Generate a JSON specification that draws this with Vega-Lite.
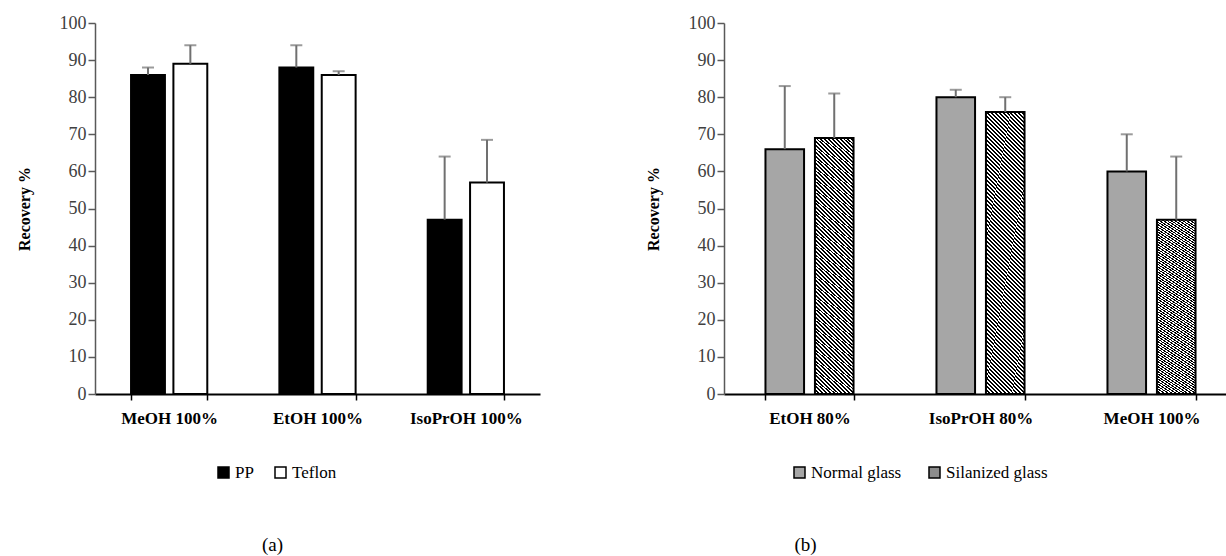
{
  "$schema": "https://vega.github.io/schema/vega-lite/v6.json",
  "background": "white",
  "padding": {"left": 16, "top": 14, "right": 0, "bottom": 0},
  "spacing": 105,
  "config": {
    "font": "Liberation Serif",
    "view": {"stroke": null}
  },
  "datasets": {
    "a": [
      {"solvent": "MeOH 100%", "material": "PP", "value": 86, "upper": 88},
      {"solvent": "MeOH 100%", "material": "Teflon", "value": 89, "upper": 94},
      {"solvent": "EtOH 100%", "material": "PP", "value": 88, "upper": 94},
      {"solvent": "EtOH 100%", "material": "Teflon", "value": 86, "upper": 87},
      {"solvent": "IsoPrOH 100%", "material": "PP", "value": 47, "upper": 64},
      {"solvent": "IsoPrOH 100%", "material": "Teflon", "value": 57, "upper": 68.5}
    ],
    "b": [
      {"solvent2": "EtOH 80%", "glass": "Normal glass", "value": 66, "upper": 83},
      {"solvent2": "EtOH 80%", "glass": "Silanized glass", "value": 69, "upper": 81},
      {"solvent2": "IsoPrOH 80%", "glass": "Normal glass", "value": 80, "upper": 82},
      {"solvent2": "IsoPrOH 80%", "glass": "Silanized glass", "value": 76, "upper": 80},
      {"solvent2": "MeOH 100%", "glass": "Normal glass", "value": 60, "upper": 70},
      {"solvent2": "MeOH 100%", "glass": "Silanized glass", "value": 47, "upper": 64}
    ]
  },
  "hconcat": [
    {
      "width": 445, "height": 371,
      "data": {"name": "a"},
      "title": {"text": "(a)", "orient": "bottom", "offset": 55, "dx": -45, "fontSize": 19, "fontWeight": "normal", "font": "Liberation Serif", "color": "#000"},
      "encoding": {
        "x": {"field": "solvent", "type": "nominal", "sort": ["MeOH 100%", "EtOH 100%", "IsoPrOH 100%"], "scale": {"paddingInner": 0.486, "paddingOuter": 0.243},
          "axis": {"title": null, "grid": false, "labelAngle": 0, "labelFontSize": 17, "labelFontWeight": "bold", "labelColor": "#000", "labelFont": "Liberation Serif",
            "domainColor": "#000", "domainWidth": 2, "tickColor": "#000", "tickWidth": 1.5, "tickSize": 6, "tickBand": "extent", "labelPadding": 10}},
        "xOffset": {"field": "material", "type": "nominal", "sort": ["PP", "Teflon"], "scale": {"paddingInner": 0.2, "paddingOuter": 0}}
      },
      "layer": [
        {
          "mark": {"type": "bar", "stroke": "#000", "strokeWidth": 2},
          "encoding": {
            "y": {"field": "value", "type": "quantitative", "scale": {"domain": [0, 100]},
              "axis": {"title": "Recovery %", "values": [0, 10, 20, 30, 40, 50, 60, 70, 80, 90, 100], "labelOverlap": false,
                "grid": false, "domainColor": "#595959", "domainWidth": 1.5, "tickColor": "#595959", "tickWidth": 1.5,
                "tickSize": 7, "labelFontSize": 18, "labelColor": "#404040", "labelPadding": 2, "labelFont": "Liberation Serif",
                "titleFont": "Liberation Serif", "titleFontSize": 16, "titleFontWeight": "bold", "titleColor": "#000", "titlePadding": 27}},
            "fill": {"field": "material", "type": "nominal", "scale": {"domain": ["PP", "Teflon"], "range": ["#000000", "#ffffff"]},
              "legend": {"title": null, "orient": "none", "legendX": 120, "legendY": 441, "direction": "horizontal",
                "labelFont": "Liberation Serif", "labelFontSize": 17, "labelColor": "#000", "symbolType": "square", "symbolSize": 121,
                "symbolStrokeColor": "#000", "symbolStrokeWidth": 1.5, "labelOffset": 3, "columnPadding": 18}}
          }
        },
        {
          "mark": {"type": "rule", "color": "#707070", "strokeWidth": 2},
          "encoding": {
            "y": {"field": "value", "type": "quantitative", "scale": {"domain": [0, 100]},
              "axis": {"title": "Recovery %", "values": [0, 10, 20, 30, 40, 50, 60, 70, 80, 90, 100], "labelOverlap": false,
                "grid": false, "domainColor": "#595959", "domainWidth": 1.5, "tickColor": "#595959", "tickWidth": 1.5,
                "tickSize": 7, "labelFontSize": 18, "labelColor": "#404040", "labelPadding": 2, "labelFont": "Liberation Serif",
                "titleFont": "Liberation Serif", "titleFontSize": 16, "titleFontWeight": "bold", "titleColor": "#000", "titlePadding": 27}},
            "y2": {"field": "upper"}}
        },
        {
          "mark": {"type": "tick", "color": "#707070", "thickness": 2, "size": 12},
          "encoding": {
            "y": {"field": "upper", "type": "quantitative", "scale": {"domain": [0, 100]},
              "axis": {"title": "Recovery %", "values": [0, 10, 20, 30, 40, 50, 60, 70, 80, 90, 100], "labelOverlap": false,
                "grid": false, "domainColor": "#595959", "domainWidth": 1.5, "tickColor": "#595959", "tickWidth": 1.5,
                "tickSize": 7, "labelFontSize": 18, "labelColor": "#404040", "labelPadding": 2, "labelFont": "Liberation Serif",
                "titleFont": "Liberation Serif", "titleFontSize": 16, "titleFontWeight": "bold", "titleColor": "#000", "titlePadding": 27}}}
        }
      ]
    },
    {
      "width": 513, "height": 371,
      "data": {"name": "b"},
      "title": {"text": "(b)", "orient": "bottom", "offset": 55, "dx": -175, "fontSize": 19, "fontWeight": "normal", "font": "Liberation Serif", "color": "#000"},
      "encoding": {
        "x": {"field": "solvent2", "type": "nominal", "sort": ["EtOH 80%", "IsoPrOH 80%", "MeOH 100%"], "scale": {"paddingInner": 0.485, "paddingOuter": 0.2425},
          "axis": {"title": null, "grid": false, "labelAngle": 0, "labelFontSize": 17, "labelFontWeight": "bold", "labelColor": "#000", "labelFont": "Liberation Serif",
            "domainColor": "#000", "domainWidth": 2, "tickColor": "#000", "tickWidth": 1.5, "tickSize": 6, "tickBand": "extent", "labelPadding": 10}},
        "xOffset": {"field": "glass", "type": "nominal", "sort": ["Normal glass", "Silanized glass"], "scale": {"paddingInner": 0.22, "paddingOuter": 0}}
      },
      "layer": [
        {
          "mark": {"type": "bar", "stroke": "#000", "strokeWidth": 2},
          "encoding": {
            "y": {"field": "value", "type": "quantitative", "scale": {"domain": [0, 100]},
              "axis": {"title": "Recovery %", "values": [0, 10, 20, 30, 40, 50, 60, 70, 80, 90, 100], "labelOverlap": false,
                "grid": false, "domainColor": "#595959", "domainWidth": 1.5, "tickColor": "#595959", "tickWidth": 1.5,
                "tickSize": 7, "labelFontSize": 18, "labelColor": "#404040", "labelPadding": 2, "labelFont": "Liberation Serif",
                "titleFont": "Liberation Serif", "titleFontSize": 16, "titleFontWeight": "bold", "titleColor": "#000", "titlePadding": 27}},
            "fill": {
              "condition": {"test": "datum.glass === 'Silanized glass'", "value": {"gradient": "linear", "x1": 0, "y1": 1, "x2": 1, "y2": -6, "stops": [
{"offset":0,"color":"#000"},{"offset":0.001,"color":"#000"},{"offset":0.001,"color":"#fff"},{"offset":0.002,"color":"#fff"},
{"offset":0.002,"color":"#000"},{"offset":0.003,"color":"#000"},{"offset":0.003,"color":"#fff"},{"offset":0.004,"color":"#fff"},
{"offset":0.004,"color":"#000"},{"offset":0.005,"color":"#000"},{"offset":0.005,"color":"#fff"},{"offset":0.006,"color":"#fff"},
{"offset":0.006,"color":"#000"},{"offset":0.007,"color":"#000"},{"offset":0.007,"color":"#fff"},{"offset":0.008,"color":"#fff"},
{"offset":0.008,"color":"#000"},{"offset":0.009,"color":"#000"},{"offset":0.009,"color":"#fff"},{"offset":0.010,"color":"#fff"},
{"offset":0.010,"color":"#000"},{"offset":0.011,"color":"#000"},{"offset":0.011,"color":"#fff"},{"offset":0.012,"color":"#fff"},
{"offset":0.012,"color":"#000"},{"offset":0.013,"color":"#000"},{"offset":0.013,"color":"#fff"},{"offset":0.014,"color":"#fff"},
{"offset":0.014,"color":"#000"},{"offset":0.015,"color":"#000"},{"offset":0.015,"color":"#fff"},{"offset":0.016,"color":"#fff"},
{"offset":0.016,"color":"#000"},{"offset":0.017,"color":"#000"},{"offset":0.017,"color":"#fff"},{"offset":0.018,"color":"#fff"},
{"offset":0.018,"color":"#000"},{"offset":0.019,"color":"#000"},{"offset":0.019,"color":"#fff"},{"offset":0.020,"color":"#fff"},
{"offset":0.020,"color":"#000"},{"offset":0.021,"color":"#000"},{"offset":0.021,"color":"#fff"},{"offset":0.022,"color":"#fff"},
{"offset":0.022,"color":"#000"},{"offset":0.023,"color":"#000"},{"offset":0.023,"color":"#fff"},{"offset":0.024,"color":"#fff"},
{"offset":0.024,"color":"#000"},{"offset":0.025,"color":"#000"},{"offset":0.025,"color":"#fff"},{"offset":0.026,"color":"#fff"},
{"offset":0.026,"color":"#000"},{"offset":0.027,"color":"#000"},{"offset":0.027,"color":"#fff"},{"offset":0.028,"color":"#fff"},
{"offset":0.028,"color":"#000"},{"offset":0.029,"color":"#000"},{"offset":0.029,"color":"#fff"},{"offset":0.030,"color":"#fff"},
{"offset":0.030,"color":"#000"},{"offset":0.031,"color":"#000"},{"offset":0.031,"color":"#fff"},{"offset":0.032,"color":"#fff"},
{"offset":0.032,"color":"#000"},{"offset":0.033,"color":"#000"},{"offset":0.033,"color":"#fff"},{"offset":0.034,"color":"#fff"},
{"offset":0.034,"color":"#000"},{"offset":0.035,"color":"#000"},{"offset":0.035,"color":"#fff"},{"offset":0.036,"color":"#fff"},
{"offset":0.036,"color":"#000"},{"offset":0.037,"color":"#000"},{"offset":0.037,"color":"#fff"},{"offset":0.038,"color":"#fff"},
{"offset":0.038,"color":"#000"},{"offset":0.039,"color":"#000"},{"offset":0.039,"color":"#fff"},{"offset":0.040,"color":"#fff"},
{"offset":0.040,"color":"#000"},{"offset":0.041,"color":"#000"},{"offset":0.041,"color":"#fff"},{"offset":0.042,"color":"#fff"},
{"offset":0.042,"color":"#000"},{"offset":0.043,"color":"#000"},{"offset":0.043,"color":"#fff"},{"offset":0.044,"color":"#fff"},
{"offset":0.044,"color":"#000"},{"offset":0.045,"color":"#000"},{"offset":0.045,"color":"#fff"},{"offset":0.046,"color":"#fff"},
{"offset":0.046,"color":"#000"},{"offset":0.047,"color":"#000"},{"offset":0.047,"color":"#fff"},{"offset":0.048,"color":"#fff"},
{"offset":0.048,"color":"#000"},{"offset":0.049,"color":"#000"},{"offset":0.049,"color":"#fff"},{"offset":0.050,"color":"#fff"},
{"offset":0.050,"color":"#000"},{"offset":0.051,"color":"#000"},{"offset":0.051,"color":"#fff"},{"offset":0.052,"color":"#fff"},
{"offset":0.052,"color":"#000"},{"offset":0.053,"color":"#000"},{"offset":0.053,"color":"#fff"},{"offset":0.054,"color":"#fff"},
{"offset":0.054,"color":"#000"},{"offset":0.055,"color":"#000"},{"offset":0.055,"color":"#fff"},{"offset":0.056,"color":"#fff"},
{"offset":0.056,"color":"#000"},{"offset":0.057,"color":"#000"},{"offset":0.057,"color":"#fff"},{"offset":0.058,"color":"#fff"},
{"offset":0.058,"color":"#000"},{"offset":0.059,"color":"#000"},{"offset":0.059,"color":"#fff"},{"offset":0.060,"color":"#fff"},
{"offset":0.060,"color":"#000"},{"offset":0.061,"color":"#000"},{"offset":0.061,"color":"#fff"},{"offset":0.062,"color":"#fff"},
{"offset":0.062,"color":"#000"},{"offset":0.063,"color":"#000"},{"offset":0.063,"color":"#fff"},{"offset":0.064,"color":"#fff"},
{"offset":0.064,"color":"#000"},{"offset":0.065,"color":"#000"},{"offset":0.065,"color":"#fff"},{"offset":0.066,"color":"#fff"},
{"offset":0.066,"color":"#000"},{"offset":0.067,"color":"#000"},{"offset":0.067,"color":"#fff"},{"offset":0.068,"color":"#fff"},
{"offset":0.068,"color":"#000"},{"offset":0.069,"color":"#000"},{"offset":0.069,"color":"#fff"},{"offset":0.070,"color":"#fff"},
{"offset":0.070,"color":"#000"},{"offset":0.071,"color":"#000"},{"offset":0.071,"color":"#fff"},{"offset":0.072,"color":"#fff"},
{"offset":0.072,"color":"#000"},{"offset":0.073,"color":"#000"},{"offset":0.073,"color":"#fff"},{"offset":0.074,"color":"#fff"},
{"offset":0.074,"color":"#000"},{"offset":0.075,"color":"#000"},{"offset":0.075,"color":"#fff"},{"offset":0.076,"color":"#fff"},
{"offset":0.076,"color":"#000"},{"offset":0.077,"color":"#000"},{"offset":0.077,"color":"#fff"},{"offset":0.078,"color":"#fff"},
{"offset":0.078,"color":"#000"},{"offset":0.079,"color":"#000"},{"offset":0.079,"color":"#fff"},{"offset":0.080,"color":"#fff"},
{"offset":0.080,"color":"#000"},{"offset":0.081,"color":"#000"},{"offset":0.081,"color":"#fff"},{"offset":0.082,"color":"#fff"},
{"offset":0.082,"color":"#000"},{"offset":0.083,"color":"#000"},{"offset":0.083,"color":"#fff"},{"offset":0.084,"color":"#fff"},
{"offset":0.084,"color":"#000"},{"offset":0.085,"color":"#000"},{"offset":0.085,"color":"#fff"},{"offset":0.086,"color":"#fff"},
{"offset":0.086,"color":"#000"},{"offset":0.087,"color":"#000"},{"offset":0.087,"color":"#fff"},{"offset":0.088,"color":"#fff"},
{"offset":0.088,"color":"#000"},{"offset":0.089,"color":"#000"},{"offset":0.089,"color":"#fff"},{"offset":0.090,"color":"#fff"},
{"offset":0.090,"color":"#000"},{"offset":0.091,"color":"#000"},{"offset":0.091,"color":"#fff"},{"offset":0.092,"color":"#fff"},
{"offset":0.092,"color":"#000"},{"offset":0.093,"color":"#000"},{"offset":0.093,"color":"#fff"},{"offset":0.094,"color":"#fff"},
{"offset":0.094,"color":"#000"},{"offset":0.095,"color":"#000"},{"offset":0.095,"color":"#fff"},{"offset":0.096,"color":"#fff"},
{"offset":0.096,"color":"#000"},{"offset":0.097,"color":"#000"},{"offset":0.097,"color":"#fff"},{"offset":0.098,"color":"#fff"},
{"offset":0.098,"color":"#000"},{"offset":0.099,"color":"#000"},{"offset":0.099,"color":"#fff"},{"offset":0.100,"color":"#fff"},
{"offset":0.100,"color":"#000"},{"offset":0.101,"color":"#000"},{"offset":0.101,"color":"#fff"},{"offset":0.102,"color":"#fff"},
{"offset":0.102,"color":"#000"},{"offset":0.103,"color":"#000"},{"offset":0.103,"color":"#fff"},{"offset":0.104,"color":"#fff"},
{"offset":0.104,"color":"#000"},{"offset":0.105,"color":"#000"},{"offset":0.105,"color":"#fff"},{"offset":0.106,"color":"#fff"},
{"offset":0.106,"color":"#000"},{"offset":0.107,"color":"#000"},{"offset":0.107,"color":"#fff"},{"offset":0.108,"color":"#fff"},
{"offset":0.108,"color":"#000"},{"offset":0.109,"color":"#000"},{"offset":0.109,"color":"#fff"},{"offset":0.110,"color":"#fff"},
{"offset":0.110,"color":"#000"},{"offset":0.111,"color":"#000"},{"offset":0.111,"color":"#fff"},{"offset":0.112,"color":"#fff"},
{"offset":0.112,"color":"#000"},{"offset":0.113,"color":"#000"},{"offset":0.113,"color":"#fff"},{"offset":0.114,"color":"#fff"},
{"offset":0.114,"color":"#000"},{"offset":0.115,"color":"#000"},{"offset":0.115,"color":"#fff"},{"offset":0.116,"color":"#fff"},
{"offset":0.116,"color":"#000"},{"offset":0.117,"color":"#000"},{"offset":0.117,"color":"#fff"},{"offset":0.118,"color":"#fff"},
{"offset":0.118,"color":"#000"},{"offset":0.119,"color":"#000"},{"offset":0.119,"color":"#fff"},{"offset":0.120,"color":"#fff"},
{"offset":0.120,"color":"#000"},{"offset":0.121,"color":"#000"},{"offset":0.121,"color":"#fff"},{"offset":0.122,"color":"#fff"},
{"offset":0.122,"color":"#000"},{"offset":0.123,"color":"#000"},{"offset":0.123,"color":"#fff"},{"offset":0.124,"color":"#fff"},
{"offset":0.124,"color":"#000"},{"offset":0.125,"color":"#000"},{"offset":0.125,"color":"#fff"},{"offset":0.126,"color":"#fff"},
{"offset":0.126,"color":"#000"},{"offset":0.127,"color":"#000"},{"offset":0.127,"color":"#fff"},{"offset":0.128,"color":"#fff"},
{"offset":0.128,"color":"#000"},{"offset":0.129,"color":"#000"},{"offset":0.129,"color":"#fff"},{"offset":0.130,"color":"#fff"},
{"offset":0.130,"color":"#000"},{"offset":0.131,"color":"#000"},{"offset":0.131,"color":"#fff"},{"offset":0.132,"color":"#fff"},
{"offset":0.132,"color":"#000"},{"offset":0.133,"color":"#000"},{"offset":0.133,"color":"#fff"},{"offset":0.134,"color":"#fff"},
{"offset":0.134,"color":"#000"},{"offset":0.135,"color":"#000"},{"offset":0.135,"color":"#fff"},{"offset":0.136,"color":"#fff"},
{"offset":0.136,"color":"#000"},{"offset":0.137,"color":"#000"},{"offset":0.137,"color":"#fff"},{"offset":0.138,"color":"#fff"},
{"offset":0.138,"color":"#000"},{"offset":0.139,"color":"#000"},{"offset":0.139,"color":"#fff"},{"offset":0.140,"color":"#fff"},
{"offset":0.140,"color":"#000"},{"offset":0.141,"color":"#000"},{"offset":0.141,"color":"#fff"},{"offset":0.142,"color":"#fff"},
{"offset":0.142,"color":"#000"},{"offset":0.143,"color":"#000"},{"offset":0.143,"color":"#fff"},{"offset":0.144,"color":"#fff"},
{"offset":0.144,"color":"#000"},{"offset":0.145,"color":"#000"},{"offset":0.145,"color":"#fff"},{"offset":0.146,"color":"#fff"},
{"offset":0.146,"color":"#000"},{"offset":0.147,"color":"#000"},{"offset":0.147,"color":"#fff"},{"offset":0.148,"color":"#fff"},
{"offset":0.148,"color":"#000"},{"offset":0.149,"color":"#000"},{"offset":0.149,"color":"#fff"},{"offset":0.150,"color":"#fff"},
{"offset":0.150,"color":"#000"},{"offset":0.151,"color":"#000"},{"offset":0.151,"color":"#fff"},{"offset":0.152,"color":"#fff"},
{"offset":0.152,"color":"#000"},{"offset":0.153,"color":"#000"},{"offset":0.153,"color":"#fff"},{"offset":0.154,"color":"#fff"},
{"offset":0.154,"color":"#000"},{"offset":0.155,"color":"#000"},{"offset":0.155,"color":"#fff"},{"offset":0.156,"color":"#fff"},
{"offset":0.156,"color":"#000"},{"offset":0.157,"color":"#000"},{"offset":0.157,"color":"#fff"},{"offset":0.158,"color":"#fff"},
{"offset":0.158,"color":"#000"},{"offset":0.159,"color":"#000"},{"offset":0.159,"color":"#fff"},{"offset":0.160,"color":"#fff"}
              ]}},
              "field": "glass", "type": "nominal",
              "scale": {"domain": ["Normal glass", "Silanized glass"], "range": ["#a6a6a6", "#8c8c8c"]},
              "legend": {
                "title": null, "orient": "none", "legendX": 67, "legendY": 441, "direction": "horizontal", "columnPadding": 24,
                "labelFont": "Liberation Serif", "labelFontSize": 17, "labelColor": "#000", "symbolType": "square", "symbolSize": 121,
                "symbolStrokeColor": "#000", "symbolStrokeWidth": 1.5, "labelOffset": 3
              }
            }
          }
        },
        {
          "mark": {"type": "rule", "color": "#707070", "strokeWidth": 2},
          "encoding": {
            "y": {"field": "value", "type": "quantitative", "scale": {"domain": [0, 100]},
              "axis": {"title": "Recovery %", "values": [0, 10, 20, 30, 40, 50, 60, 70, 80, 90, 100], "labelOverlap": false,
                "grid": false, "domainColor": "#595959", "domainWidth": 1.5, "tickColor": "#595959", "tickWidth": 1.5,
                "tickSize": 7, "labelFontSize": 18, "labelColor": "#404040", "labelPadding": 2, "labelFont": "Liberation Serif",
                "titleFont": "Liberation Serif", "titleFontSize": 16, "titleFontWeight": "bold", "titleColor": "#000", "titlePadding": 27}},
            "y2": {"field": "upper"}}
        },
        {
          "mark": {"type": "tick", "color": "#707070", "thickness": 2, "size": 12},
          "encoding": {
            "y": {"field": "upper", "type": "quantitative", "scale": {"domain": [0, 100]},
              "axis": {"title": "Recovery %", "values": [0, 10, 20, 30, 40, 50, 60, 70, 80, 90, 100], "labelOverlap": false,
                "grid": false, "domainColor": "#595959", "domainWidth": 1.5, "tickColor": "#595959", "tickWidth": 1.5,
                "tickSize": 7, "labelFontSize": 18, "labelColor": "#404040", "labelPadding": 2, "labelFont": "Liberation Serif",
                "titleFont": "Liberation Serif", "titleFontSize": 16, "titleFontWeight": "bold", "titleColor": "#000", "titlePadding": 27}}}
        }
      ]
    }
  ],
  "resolve": {"scale": {"x": "independent", "xOffset": "independent", "fill": "independent", "y": "independent"}, "legend": {"fill": "independent"}}
}
